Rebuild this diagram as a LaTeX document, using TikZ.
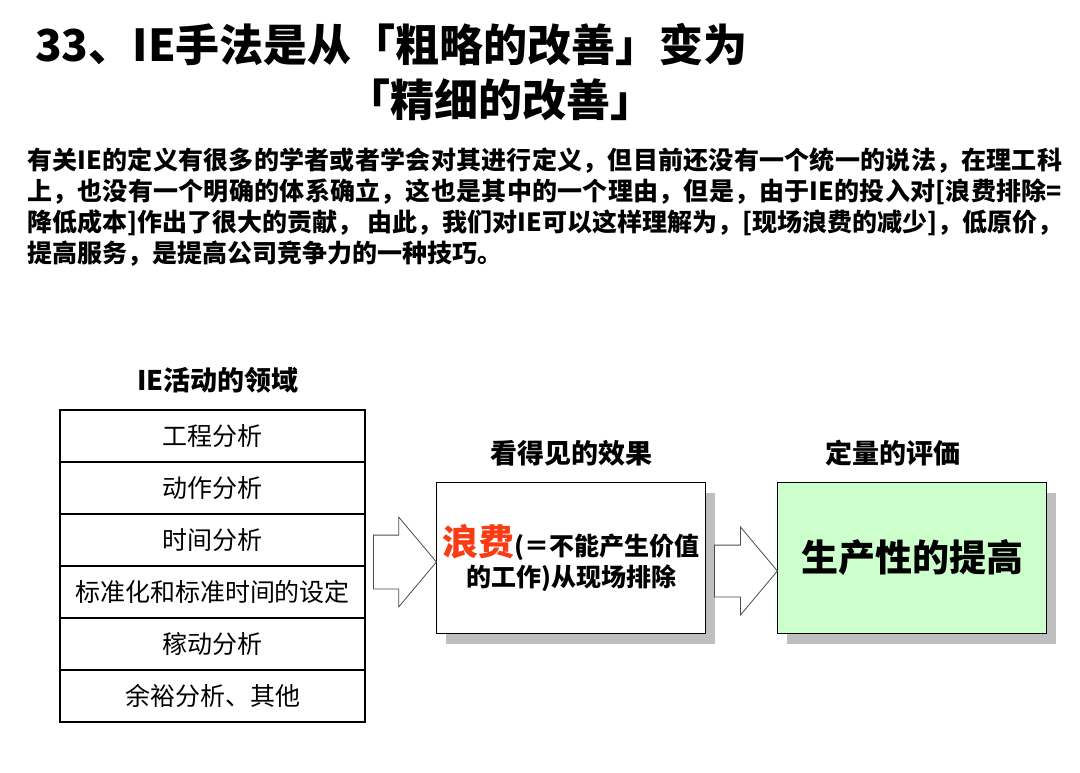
\documentclass[tikz,border=0pt]{standalone}
\usepackage{fontspec}
\setmainfont{Noto Sans CJK SC}
\usepackage{xcolor}
\usetikzlibrary{shapes,arrows,positioning,shadows}

\definecolor{wastered}{RGB}{250,60,20}
\definecolor{gaingreen}{RGB}{204,255,204}
\XeTeXlinebreaklocale "zh"
\XeTeXlinebreakskip=0pt plus 2pt

\begin{document}
\begin{tikzpicture}[x=1pt, y=-1pt, node distance=0pt, auto,
    % Styles for titles, list rows, result boxes and the open block arrows
    title/.style={font=\fontsize{44}{50}\selectfont\bfseries, inner sep=0pt},
    heading/.style={font=\fontsize{27}{31}\selectfont\bfseries, inner sep=0pt},
    row/.style={rectangle, draw, line width=1.2pt, minimum width=305pt, minimum height=52pt, inner sep=0pt, outer sep=0pt, font=\fontsize{25}{30}\selectfont},
    result/.style={rectangle, draw, line width=1pt, fill=white, minimum width=269pt, minimum height=151pt, align=center, inner sep=0pt,
        drop shadow={shadow xshift=9pt, shadow yshift=-10pt, fill=black!25, opacity=1}},
    bigarrow/.style={single arrow, draw=black!70, fill=white, line width=0.8pt, minimum height=63pt, anchor=tail,
        single arrow head extend=18pt, single arrow tip angle=100, inner sep=0pt}]

    \fill [white] (0,0) rectangle (1080,773);
    \useasboundingbox (0,0) rectangle (1080,773);

    % Node: Title (two lines)
    \node [title, anchor=west] (title1) at (35,45) {33、IE手法是从「粗略的改善」变为};
    \node [title] (title2) at (500,100) {「精细的改善」};

    % Node: Intro paragraph
    \node [anchor=north west, text width=1035pt, align=justify, inner sep=0pt,
        font=\fontsize{25}{31}\selectfont\bfseries] (intro) at (27,148)
        {有关IE的定义有很多的学者或者学会对其进行定义，但目前还没有一个统一的说法，在理工科\linebreak
         上，也没有一个明确的体系确立，这也是其中的一个理由，但是，由于IE的投入对[浪费排除=\linebreak
         降低成本]作出了很大的贡献，\ 由此，我们对IE可以这样理解为，[现场浪费的减少]，低原价，\linebreak
         提高服务，是提高公司竞争力的一种技巧。};

    % Node: IE activity areas (stacked rows)
    \node [heading] (areas) at (218,380) {IE活动的领域};
    \node [row, anchor=north west] (process) at (60,410) {工程分析};
    \node [row, below=of process] (motion) {动作分析};
    \node [row, below=of motion] (time) {时间分析};
    \node [row, below=of time] (standard) {标准化和标准时间的设定};
    \node [row, below=of standard] (utilization) {稼动分析};
    \node [row, below=of utilization] (allowance) {余裕分析、其他};

    % Node: Visible effect
    \node [result, anchor=north west] (waste) at (436,482)
        {{\fontsize{36}{40}\selectfont\bfseries\color{wastered}浪费}{\fontsize{25}{34}\selectfont\bfseries (＝不能产生价值}\\[4pt]
         {\fontsize{25}{34}\selectfont\bfseries 的工作)从现场排除}};
    \node [heading, above=16pt of waste] (visible) {看得见的效果};

    % Node: Quantitative evaluation
    \node [result, fill=gaingreen, right=71pt of waste, font=\fontsize{37}{42}\selectfont\bfseries] (gain) {生产性的提高};
    \node [heading] (quant) at (893,453) {定量的评価};

    % Edges (open block arrows between the boxes)
    \node [bigarrow] (arrowa) at (373,562) {\rule{0pt}{53pt}};
    \node [bigarrow] (arrowb) at (714,571) {\rule{0pt}{51pt}};

\end{tikzpicture}
\end{document}
